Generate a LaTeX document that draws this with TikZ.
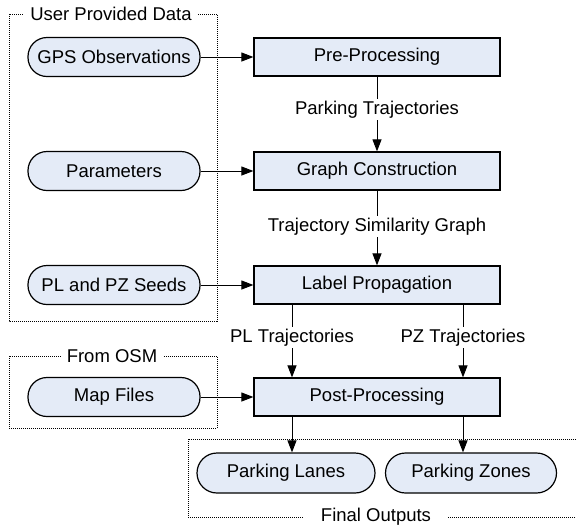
\documentclass[tikz,border=0pt]{standalone}
\usepackage{fontspec}
\setmainfont{Liberation Sans}
\usetikzlibrary{arrows.meta,positioning}
\definecolor{boxfill}{HTML}{E4EBF7}
\tikzset{
  every node/.style={font=\fontsize{18.5}{22}\selectfont},
  procbox/.style={draw, line width=1.2pt, fill=boxfill, minimum width=246pt, minimum height=38pt, inner sep=0pt},
  pill/.style={draw, line width=1.2pt, fill=boxfill, rounded corners=19pt, minimum width=172pt, minimum height=39pt, inner sep=0pt},
  arr/.style={line width=1pt, -{Triangle[length=12pt,width=9pt]}},
  grp/.style={line width=1pt, dash pattern=on 1pt off 1pt},
  grptitle/.style={fill=white, inner ysep=1pt, inner xsep=6pt},
  lbl/.style={fill=white, inner sep=2pt}
}
\begin{document}
\begin{tikzpicture}[x=1pt,y=-1pt]
\useasboundingbox (0,0) rectangle (576,531);
% groups
\draw[grp] (9,14) rectangle (217,321);
\node[grptitle] (t1) at (111,14) {User Provided Data};
\draw[grp] (9,356) rectangle (217,428);
\node[grptitle] (t2) at (112,356) {From OSM};
\draw[grp] (580,439) -- (188,439) -- (188,517) -- (580,517);
\node[grptitle, inner xsep=17pt] (t3) at (376,517) {Final Outputs};
% inputs
\node[pill] (gps) at (114,57) {GPS Observations};
\node[pill] (par) at (114,171) {Parameters};
\node[pill] (seed) at (114,285) {PL and PZ Seeds};
\node[pill] (map) at (114,397) {Map Files};
% process
\node[procbox] (pre) at (377,57) {Pre-Processing};
\node[procbox] (gc) at (377,171) {Graph Construction};
\node[procbox] (lp) at (377,285) {Label Propagation};
\node[procbox] (pp) at (377,397) {Post-Processing};
% outputs
\node[pill, minimum width=178pt, minimum height=40pt, rounded corners=20pt] (lanes) at (286,473) {Parking Lanes};
\node[pill, minimum width=171pt, minimum height=40pt, rounded corners=20pt] (zones) at (471,473) {Parking Zones};
\coordinate (xa) at (292,0);
\coordinate (xb) at (463,0);
% connectors
\draw[arr] (gps) -- (pre);
\draw[arr] (par) -- (gc);
\draw[arr] (seed) -- (lp);
\draw[arr] (map) -- (pp);
\draw[arr] (pre) -- node[lbl, pos=0.44] {Parking Trajectories} (gc);
\draw[arr] (gc) -- node[lbl, pos=0.48] {Trajectory Similarity Graph} (lp);
\draw[arr] (lp.south -| xa) -- node[lbl, pos=0.45] {PL Trajectories} (pp.north -| xa);
\draw[arr] (lp.south -| xb) -- node[lbl, pos=0.45] {PZ Trajectories} (pp.north -| xb);
\draw[arr] (pp.south -| xa) -- (lanes.north -| xa);
\draw[arr] (pp.south -| xb) -- (zones.north -| xb);
\end{tikzpicture}
\end{document}
